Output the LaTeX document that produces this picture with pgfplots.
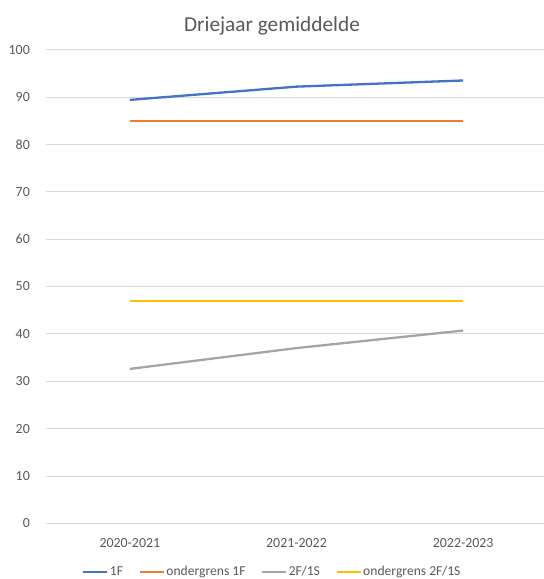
\documentclass[border=0pt]{standalone}
\usepackage{pgfplots}
\pgfplotsset{compat=1.18}
\usepackage{fontspec}
\setmainfont{Carlito}
\definecolor{cblue}{HTML}{4472C4}
\definecolor{corange}{HTML}{ED7D31}
\definecolor{cgray}{HTML}{A5A5A5}
\definecolor{cyellow}{HTML}{FFC000}
\definecolor{ctext}{HTML}{595959}
\definecolor{cgrid}{HTML}{D9D9D9}
\begin{document}
\begin{tikzpicture}
\useasboundingbox (0,0) rectangle (544bp,579bp);
\begin{axis}[
  at={(46.5bp,55.7bp)}, anchor=south west,
  scale only axis, width=500bp, height=473.6bp,
  xmin=-0.5, xmax=2.5, ymin=0, ymax=100,
  xtick={0,1,2}, xticklabels={2020-2021,2021-2022,2022-2023},
  ytick={0,10,...,100},
  axis line style={draw=none},
  major tick length=0pt,
  ymajorgrids, major grid style={cgrid, line width=0.8bp},
  /pgf/number format/assume math mode=true,
  ticklabel style={font=\fontsize{13.9bp}{16bp}\selectfont, text=ctext},
  yticklabel style={anchor=east, inner sep=0pt, xshift=-16.5bp},
  xticklabel style={anchor=center, inner sep=0pt, yshift=-19.7bp},
  title={Driejaar gemiddelde},
  title style={at={(0.451,1)}, anchor=center, yshift=18bp, inner sep=0pt,
    font=\fontsize{21.3bp}{25bp}\selectfont, text=ctext},
  legend columns=4,
  legend style={draw=none, fill=none, at={(0.451,-0.1028)}, anchor=center,
    font=\fontsize{13.6bp}{16bp}\selectfont, text=ctext,
    /tikz/every even column/.append style={column sep=14bp},
    inner sep=0pt, nodes={inner sep=1.5bp}},
  legend image code/.code={\draw[#1] (0bp,0bp) -- (24bp,0bp);},
  every axis plot/.append style={line width=2.3bp, line join=round, no marks},
]
\addplot[cblue] coordinates {(0,89.4) (1,92.2) (2,93.5)};
\addlegendentry{1F}
\addplot[corange] coordinates {(0,85) (1,85) (2,85)};
\addlegendentry{ondergrens 1F}
\addplot[cgray] coordinates {(0,32.6) (1,37.0) (2,40.7)};
\addlegendentry{2F/1S}
\addplot[cyellow] coordinates {(0,47) (1,47) (2,47)};
\addlegendentry{ondergrens 2F/1S}
\end{axis}
\end{tikzpicture}
\end{document}
